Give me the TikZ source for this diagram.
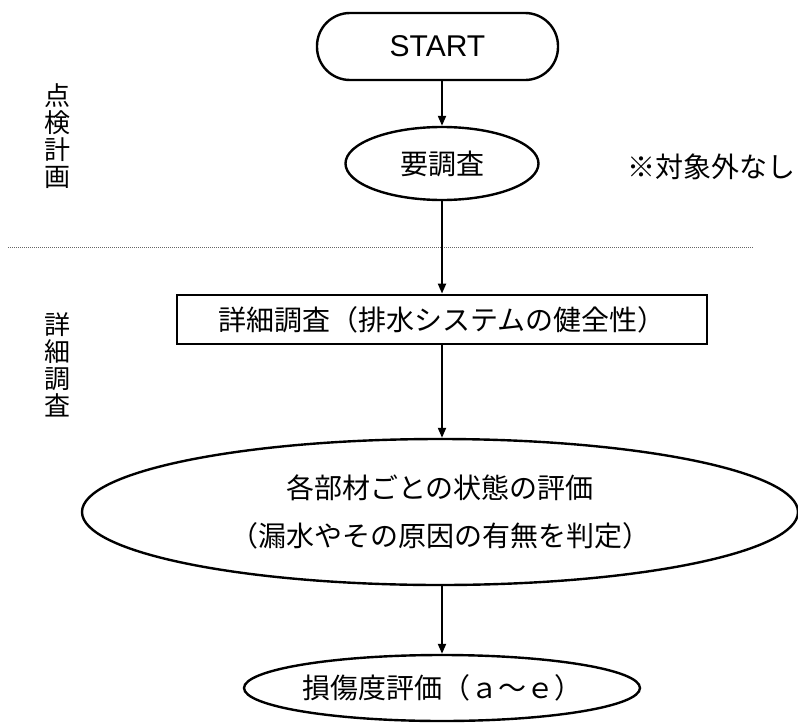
\documentclass[tikz,border=0pt]{standalone}
\usepackage{fontspec}
\newfontfamily\jp{Noto Sans CJK JP}
\newfontfamily\lat{Liberation Sans}
\usetikzlibrary{arrows.meta,shapes.geometric}
\begin{document}
\begin{tikzpicture}[x=1pt,y=-1pt,
  shapeline/.style={draw=black,line width=2.4pt},
  flow/.style={line width=2pt,-{Triangle[length=10pt,width=8pt]}},
  jptext/.style={font=\jp\fontsize{28pt}{34pt}\selectfont},
  sidelabel/.style={font=\jp\fontsize{26pt}{27pt}\selectfont,align=center,inner sep=0pt}
]
\useasboundingbox (0,0) rectangle (798,723);
\node[shapeline,rounded corners=33pt,minimum width=241pt,minimum height=67pt,inner sep=0pt,
  font=\lat\fontsize{30pt}{36pt}\selectfont] (start) at (437.5,46.5) {START};
\node[shapeline,ellipse,minimum width=193pt,minimum height=73pt,inner sep=0pt,jptext] (req) at (442,163.5) {要調査};
\node[jptext,inner sep=0pt] (note) at (711,167) {※対象外なし};
\coordinate (dl) at (8,247);
\coordinate (dr) at (753,247);
\draw[gray!80!black,line width=0.8pt,dash pattern=on 1pt off 1pt] (dl) -- (dr);
\node[sidelabel] (lab1) at (57,136) {点\\検\\計\\画};
\node[sidelabel] (lab2) at (57,365) {詳\\細\\調\\査};
\node[shapeline,line width=2.8pt,minimum width=530pt,minimum height=49pt,inner sep=0pt,jptext] (box) at (442,319.5) {詳細調査（排水システムの健全性）};
\node[shapeline,ellipse,minimum width=716pt,minimum height=146pt,inner sep=0pt,jptext,align=center] (eval) at (440,512) {各部材ごとの状態の評価\\[14pt]（漏水やその原因の有無を判定）};
\node[shapeline,ellipse,minimum width=380pt,minimum height=66pt,inner sep=0pt,jptext] (dmg) at (442,688) {損傷度評価（ａ～ｅ）};
\draw[flow] (start.south -| req.north) -- (req.north);
\draw[flow] (req.south) -- (box.north);
\draw[flow] (box.south) -- (box.south |- eval.north);
\draw[flow] (box.south |- eval.south) -- (dmg.north);
\end{tikzpicture}
\end{document}
